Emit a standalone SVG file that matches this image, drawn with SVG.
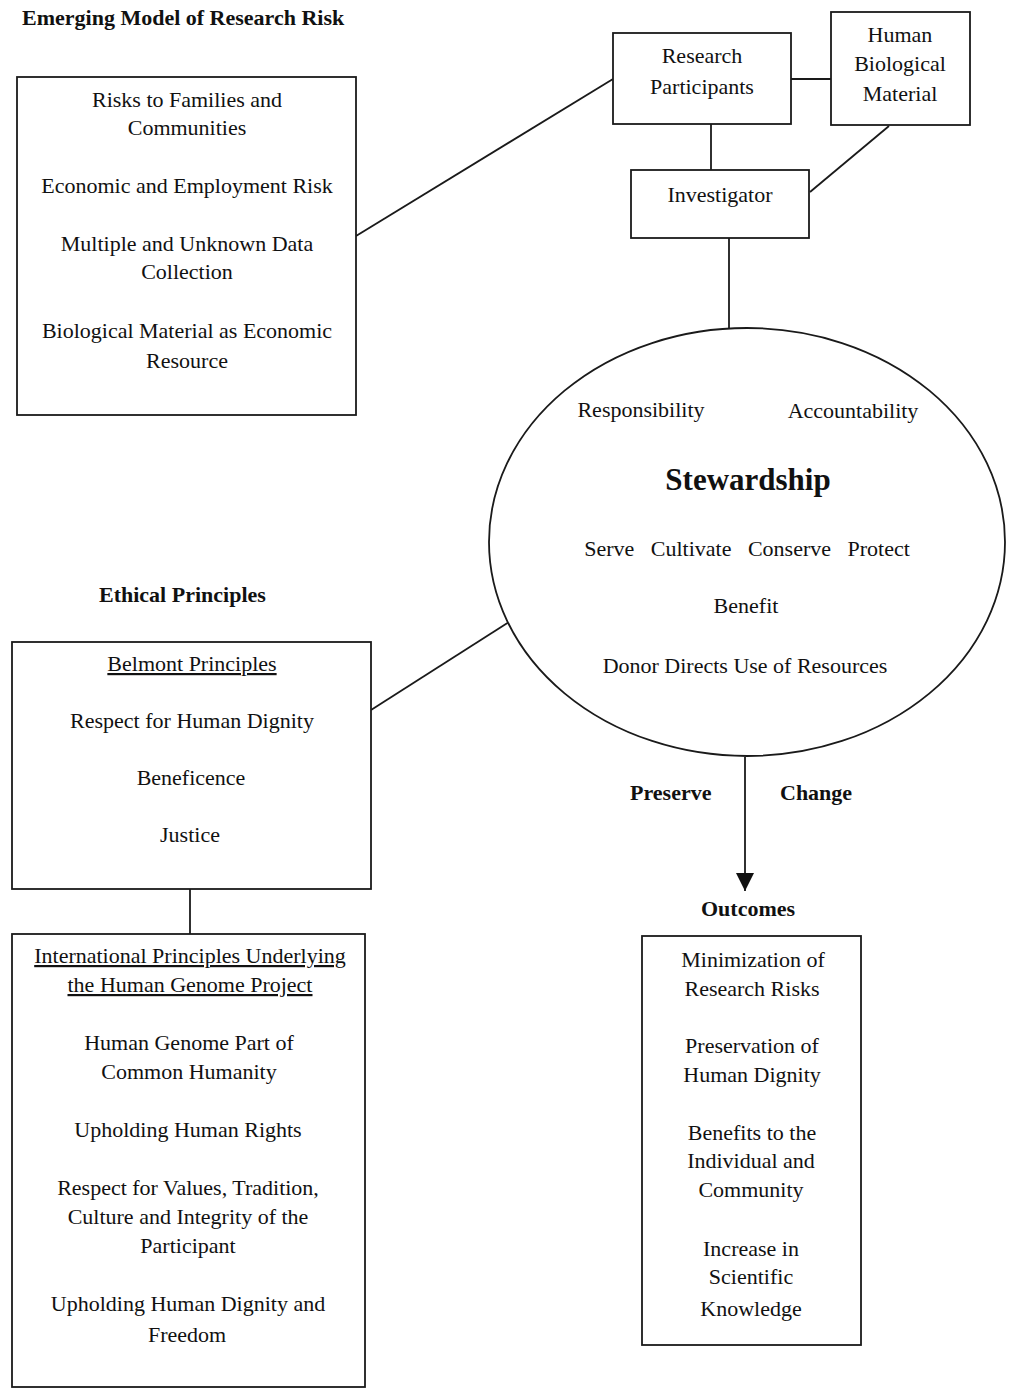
<svg xmlns="http://www.w3.org/2000/svg" width="1021" height="1389" viewBox="0 0 1021 1389">
<style>
  .box { fill: #ffffff; stroke: #1a1a1a; stroke-width: 1.8; }
  .ln { stroke: #1a1a1a; stroke-width: 1.8; fill: none; }
  .t { font-family: "Liberation Serif", "Times New Roman", serif; font-size: 22px; fill: #111; text-anchor: middle; }
  .h { font-family: "Liberation Serif", "Times New Roman", serif; font-size: 22px; font-weight: bold; fill: #111; }
  .big { font-family: "Liberation Serif", "Times New Roman", serif; font-size: 31px; font-weight: bold; fill: #111; text-anchor: middle; }
  .u { text-decoration: underline; }
</style>
<defs>
  <marker id="arrow" viewBox="0 0 10 10" refX="10" refY="5" markerWidth="9" markerHeight="9" markerUnits="userSpaceOnUse" orient="auto">
    <path d="M0,0 L10,5 L0,10 Z" fill="#111"/>
  </marker>
  <marker id="ah" viewBox="0 0 18 18" refX="18" refY="9" markerWidth="18" markerHeight="18" markerUnits="userSpaceOnUse" orient="auto">
    <path d="M0,0 L18,9 L0,18 Z" fill="#111"/>
  </marker>
</defs>
<rect x="0" y="0" width="1021" height="1389" fill="#ffffff"/>

<g id="titles">
  <text class="h" x="22" y="25">Emerging Model of Research Risk</text>
  <text class="h" x="99" y="602">Ethical Principles</text>
  <text class="h" x="630" y="800">Preserve</text>
  <text class="h" x="780" y="800">Change</text>
  <text class="h" x="701" y="916">Outcomes</text>
</g>

<g id="connectors">
  <line class="ln" x1="356" y1="236" x2="613" y2="79"/>
  <line class="ln" x1="791" y1="79" x2="831" y2="79"/>
  <line class="ln" x1="711" y1="124" x2="711" y2="170"/>
  <line class="ln" x1="889" y1="126" x2="810" y2="192"/>
  <line class="ln" x1="729" y1="238" x2="729" y2="328"/>
  <line class="ln" x1="371" y1="710" x2="509" y2="622"/>
  <line class="ln" x1="190" y1="889" x2="190" y2="934"/>
  <line class="ln" x1="745" y1="757" x2="745" y2="891" marker-end="url(#ah)"/>
</g>

<g id="risks">
  <rect class="box" x="17" y="77" width="339" height="338"/>
  <text class="t" x="187" y="107">Risks to Families and</text>
  <text class="t" x="187" y="135">Communities</text>
  <text class="t" x="187" y="193">Economic and Employment Risk</text>
  <text class="t" x="187" y="251">Multiple and Unknown Data</text>
  <text class="t" x="187" y="279">Collection</text>
  <text class="t" x="187" y="338">Biological Material as Economic</text>
  <text class="t" x="187" y="368">Resource</text>
</g>

<g id="research-participants">
  <rect class="box" x="613" y="33" width="178" height="91"/>
  <text class="t" x="702" y="63">Research</text>
  <text class="t" x="702" y="94">Participants</text>
</g>

<g id="human-biological-material">
  <rect class="box" x="831" y="12" width="139" height="113"/>
  <text class="t" x="900" y="42">Human</text>
  <text class="t" x="900" y="71">Biological</text>
  <text class="t" x="900" y="101">Material</text>
</g>

<g id="investigator">
  <rect class="box" x="631" y="170" width="178" height="68"/>
  <text class="t" x="720" y="202">Investigator</text>
</g>

<g id="stewardship">
  <ellipse class="box" cx="747" cy="542" rx="258" ry="214"/>
  <text class="t" x="641" y="417">Responsibility</text>
  <text class="t" x="853" y="418">Accountability</text>
  <text class="big" x="748" y="490">Stewardship</text>
  <text class="t" x="747" y="556" xml:space="preserve">Serve   Cultivate   Conserve   Protect</text>
  <text class="t" x="746" y="613">Benefit</text>
  <text class="t" x="745" y="673">Donor Directs Use of Resources</text>
</g>

<g id="belmont">
  <rect class="box" x="12" y="642" width="359" height="247"/>
  <text class="t u" x="192" y="671">Belmont Principles</text>
  <text class="t" x="192" y="728">Respect for Human Dignity</text>
  <text class="t" x="191" y="785">Beneficence</text>
  <text class="t" x="190" y="842">Justice</text>
</g>

<g id="international">
  <rect class="box" x="12" y="934" width="353" height="453"/>
  <text class="t u" x="190" y="963">International Principles Underlying</text>
  <text class="t u" x="190" y="992">the Human Genome Project</text>
  <text class="t" x="189" y="1050">Human Genome Part of</text>
  <text class="t" x="189" y="1079">Common Humanity</text>
  <text class="t" x="188" y="1137">Upholding Human Rights</text>
  <text class="t" x="188" y="1195">Respect for Values, Tradition,</text>
  <text class="t" x="188" y="1224">Culture and Integrity of the</text>
  <text class="t" x="188" y="1253">Participant</text>
  <text class="t" x="188" y="1311">Upholding Human Dignity and</text>
  <text class="t" x="187" y="1342">Freedom</text>
</g>

<g id="outcomes">
  <rect class="box" x="642" y="936" width="219" height="409"/>
  <text class="t" x="753" y="967">Minimization of</text>
  <text class="t" x="752" y="996">Research Risks</text>
  <text class="t" x="752" y="1053">Preservation of</text>
  <text class="t" x="752" y="1082">Human Dignity</text>
  <text class="t" x="752" y="1140">Benefits to the</text>
  <text class="t" x="751" y="1168">Individual and</text>
  <text class="t" x="751" y="1197">Community</text>
  <text class="t" x="751" y="1256">Increase in</text>
  <text class="t" x="751" y="1284">Scientific</text>
  <text class="t" x="751" y="1316">Knowledge</text>
</g>
</svg>
